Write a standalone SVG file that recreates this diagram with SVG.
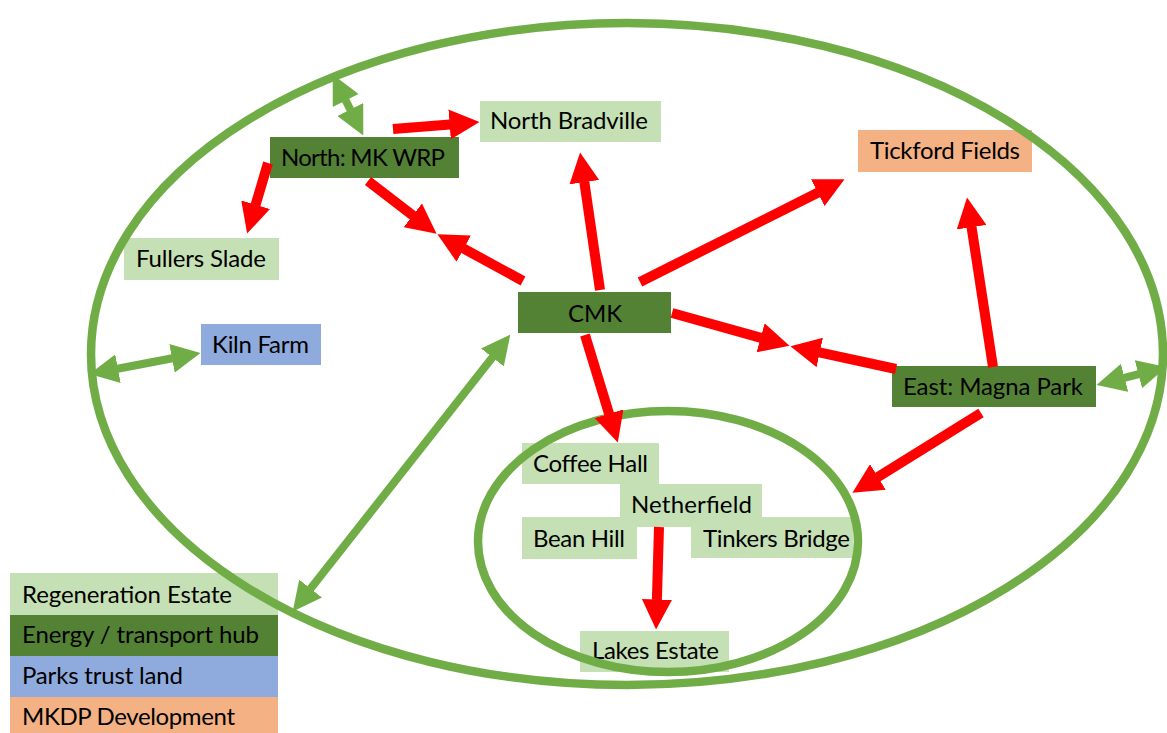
<svg xmlns="http://www.w3.org/2000/svg" width="1167" height="733" viewBox="0 0 1167 733">
  <style>
    .lbl { font-family: Lato, "Open Sans", "Liberation Sans", sans-serif; font-size: 24px; fill: #000000; }
    .regen { fill: #C5E0B4; }
    .hub { fill: #548235; }
    .park { fill: #8FAADC; }
    .mkdp { fill: #F4B183; }
    .ring { fill: none; stroke: #70AD47; stroke-width: 8.5; }
    .red { fill: none; stroke: #FF0000; stroke-width: 10; marker-end: url(#redHead); }
    .grn { fill: none; stroke: #70AD47; stroke-width: 8; marker-start: url(#grnHead); marker-end: url(#grnHead); }
  </style>
  <defs>
    <marker id="redHead" markerUnits="userSpaceOnUse" markerWidth="30" markerHeight="30" viewBox="0 0 30 30" refX="0.5" refY="15" orient="auto-start-reverse">
      <path d="M0,0 L30,15 L0,30 Z" fill="#FF0000"/>
    </marker>
    <marker id="grnHead" markerUnits="userSpaceOnUse" markerWidth="29" markerHeight="29" viewBox="0 0 29 29" refX="0.5" refY="14.5" orient="auto-start-reverse">
      <path d="M0,0 L29,14.5 L0,29 Z" fill="#70AD47"/>
    </marker>
  </defs>

  <rect x="0" y="0" width="1167" height="733" fill="#FFFFFF"/>

  <!-- nodes -->
  <g id="north-wrp">
    <rect class="hub" x="270" y="137" width="189" height="41"/>
    <text class="lbl" x="281" y="166" textLength="164">North: MK WRP</text>
  </g>
  <g id="north-bradville">
    <rect class="regen" x="480" y="101" width="181" height="41"/>
    <text class="lbl" x="490" y="129" textLength="158">North Bradville</text>
  </g>
  <g id="tickford-fields">
    <rect class="mkdp" x="858" y="130" width="174" height="42"/>
    <text class="lbl" x="870" y="159" textLength="150">Tickford Fields</text>
  </g>
  <g id="fullers-slade">
    <rect class="regen" x="124" y="238" width="155" height="42"/>
    <text class="lbl" x="136" y="267" textLength="130">Fullers Slade</text>
  </g>
  <g id="kiln-farm">
    <rect class="park" x="201" y="324" width="120" height="41"/>
    <text class="lbl" x="212" y="353" textLength="97">Kiln Farm</text>
  </g>
  <g id="cmk">
    <rect class="hub" x="518" y="292" width="153" height="41"/>
    <text class="lbl" x="595" y="322" text-anchor="middle">CMK</text>
  </g>
  <g id="east-magna-park">
    <rect class="hub" x="892" y="366" width="204" height="41"/>
    <text class="lbl" x="903" y="395" textLength="180">East: Magna Park</text>
  </g>
  <g id="coffee-hall">
    <rect class="regen" x="522" y="443" width="137" height="41"/>
    <text class="lbl" x="533" y="472" textLength="115">Coffee Hall</text>
  </g>
  <g id="bean-hill">
    <rect class="regen" x="522" y="517" width="115" height="42"/>
    <text class="lbl" x="533" y="547" textLength="92">Bean Hill</text>
  </g>
  <g id="tinkers-bridge">
    <rect class="regen" x="691" y="517" width="162" height="41"/>
    <text class="lbl" x="703" y="547" textLength="147">Tinkers Bridge</text>
  </g>
  <g id="netherfield">
    <rect class="regen" x="620" y="484" width="142" height="43"/>
    <text class="lbl" x="631" y="513" textLength="121">Netherfield</text>
  </g>
  <g id="lakes-estate">
    <rect class="regen" x="580" y="631" width="149" height="41"/>
    <text class="lbl" x="592" y="659" textLength="127">Lakes Estate</text>
  </g>

  <!-- key -->
  <g id="legend">
    <rect class="regen" x="10" y="573" width="268" height="42"/>
    <rect class="hub" x="10" y="615" width="268" height="41"/>
    <rect class="park" x="10" y="656" width="268" height="41"/>
    <rect class="mkdp" x="10" y="697" width="268" height="36"/>
    <text class="lbl" x="22" y="603" textLength="210">Regeneration Estate</text>
    <text class="lbl" x="22" y="643" textLength="237">Energy / transport hub</text>
    <text class="lbl" x="22" y="684" textLength="161">Parks trust land</text>
    <text class="lbl" x="22" y="725" textLength="213">MKDP Development</text>
  </g>

  <!-- boundary rings -->
  <g id="boundaries">
    <ellipse class="ring" cx="627" cy="354" rx="536" ry="331"/>
    <ellipse class="ring" cx="668" cy="541.5" rx="190" ry="130.5"/>
  </g>

  <!-- connectors -->
  <g id="connectors">
    <path class="red" d="M393,129 L450.1,124.4"/>
    <path class="red" d="M268,163 L255.5,205.2"/>
    <path class="red" d="M368,181 L413.2,215.7"/>
    <path class="red" d="M523,281 L463.3,248.4"/>
    <path class="red" d="M600,290 L584.3,181.7"/>
    <path class="red" d="M640,282 L818.2,192.5"/>
    <path class="red" d="M672,313 L761.1,337.9"/>
    <path class="red" d="M896,369 L819.3,352.4"/>
    <path class="red" d="M993,367 L971.5,226.7"/>
    <path class="red" d="M981,413 L877.5,477.2"/>
    <path class="red" d="M585,335 L609.2,414.3"/>
    <path class="red" d="M659,527 L656.9,600"/>
    <path class="grn" d="M345.5,100 L350.5,110"/>
    <path class="grn" d="M117.5,368.75 L172.5,358.25"/>
    <path class="grn" d="M492.7,357 L310.3,589"/>
    <path class="grn" d="M1124.1,377.9 L1138.9,374.1"/>
  </g>
</svg>
